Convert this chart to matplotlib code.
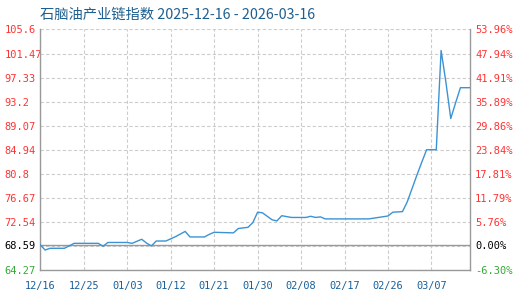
import matplotlib
matplotlib.use("Agg")
import matplotlib.pyplot as plt
import matplotlib.dates as mdates
import pandas as pd

plt.rcParams['font.family'] = ['Noto Sans CJK SC', 'DejaVu Sans']

title = "石脑油产业链指数 2025-12-16 - 2026-03-16"

dates = [
    "2025-12-16", "2025-12-17", "2025-12-18", "2025-12-21", "2025-12-23",
    "2025-12-28", "2025-12-29", "2025-12-30", "2026-01-03", "2026-01-04",
    "2026-01-06", "2026-01-07", "2026-01-08", "2026-01-09", "2026-01-11",
    "2026-01-13", "2026-01-15", "2026-01-16", "2026-01-19", "2026-01-20",
    "2026-01-21", "2026-01-25", "2026-01-26", "2026-01-28", "2026-01-29",
    "2026-01-30", "2026-01-31", "2026-02-02", "2026-02-03", "2026-02-04",
    "2026-02-06", "2026-02-09", "2026-02-10", "2026-02-11", "2026-02-12",
    "2026-02-13", "2026-02-22", "2026-02-26", "2026-02-27", "2026-03-01",
    "2026-03-02", "2026-03-03", "2026-03-04", "2026-03-05", "2026-03-06",
    "2026-03-08", "2026-03-09", "2026-03-10", "2026-03-11", "2026-03-12",
    "2026-03-13", "2026-03-15",
]
values = [
    68.59, 67.70, 68.00, 68.00, 68.85,
    68.85, 68.35, 69.00, 69.00, 68.85,
    69.55, 68.90, 68.40, 69.25, 69.25,
    70.00, 70.90, 69.95, 69.95, 70.40,
    70.75, 70.65, 71.40, 71.60, 72.40,
    74.20, 74.10, 72.90, 72.70, 73.60,
    73.30, 73.30, 73.50, 73.30, 73.40,
    73.05, 73.05, 73.55, 74.20, 74.30,
    76.00, 78.30, 80.60, 82.80, 84.94,
    84.94, 102.00, 96.50, 90.30, 93.00,
    95.60, 95.60,
]

base_value = 68.59
base_pct = "0.00%"

left_ticks = [105.6, 101.47, 97.33, 93.2, 89.07, 84.94, 80.8, 76.67, 72.54, 68.41, 64.27]
left_labels = ["105.6", "101.47", "97.33", "93.2", "89.07", "84.94", "80.8", "76.67", "72.54", "", "64.27"]
right_labels = ["53.96%", "47.94%", "41.91%", "35.89%", "29.86%", "23.84%", "17.81%",
                "11.79%", "5.76%", "", "-6.30%"]

x_ticks = ["2025-12-16", "2025-12-25", "2026-01-03", "2026-01-12", "2026-01-21",
           "2026-01-30", "2026-02-08", "2026-02-17", "2026-02-26", "2026-03-07"]

red = "#ff3333"
green = "#33aa33"
gray = "#999999"
mono = "DejaVu Sans Mono"

df = pd.DataFrame({"date": pd.to_datetime(dates), "value": values})

fig = plt.figure(figsize=(5.2, 3.0), dpi=100)
ax = fig.add_axes([0.0775, 0.1, 0.8265, 0.8017])

# grid first so the line sits on top
ax.set_axisbelow(True)
ax.grid(True, which="major", color="#cccccc", linestyle=(0, (3, 2)), linewidth=0.8)
ax.axhline(base_value, color=gray, linewidth=1.0, zorder=1.5)

ax.plot(df["date"], df["value"], color="#3b93d4", linewidth=1.0, zorder=3)

ax.set_ylim(64.27, 105.6)
ax.set_xlim(pd.Timestamp("2025-12-16"), pd.Timestamp("2026-03-15"))

ax.set_yticks(left_ticks)
ax.set_yticklabels(left_labels, fontfamily=mono, fontsize=7.5)
ax.set_yticks([base_value], minor=True)
ax.set_yticklabels([f"{base_value:.2f}"], minor=True, fontfamily=mono, fontsize=7.5)
ax.tick_params(axis="y", which="both", length=0, pad=25.8)
for lab in ax.get_yticklabels():
    lab.set_ha("left")
    lab.set_color(red)
ax.get_yticklabels()[-1].set_color(green)
for lab in ax.get_yticklabels(minor=True):
    lab.set_ha("left")
    lab.set_color("black")

ax.set_xticks(pd.to_datetime(x_ticks))
ax.xaxis.set_major_formatter(mdates.DateFormatter("%m/%d"))
ax.tick_params(axis="x", length=0, pad=8, labelsize=7.4, labelcolor="#1a5f99")
for lab in ax.get_xticklabels():
    lab.set_fontfamily(mono)

for side in ["left", "bottom", "right"]:
    ax.spines[side].set_color(gray)
    ax.spines[side].set_linewidth(1.0)
ax.spines["top"].set_visible(False)

# right side percentages vs. base value
ax2 = ax.twinx()
ax2.set_ylim(ax.get_ylim())
ax2.set_yticks(left_ticks)
ax2.set_yticklabels(right_labels, fontfamily=mono, fontsize=7.5)
ax2.set_yticks([base_value], minor=True)
ax2.set_yticklabels([base_pct], minor=True, fontfamily=mono, fontsize=7.5)
ax2.tick_params(axis="y", which="both", length=0, pad=3.6)
for lab in ax2.get_yticklabels():
    lab.set_color(red)
ax2.get_yticklabels()[-1].set_color(green)
for lab in ax2.get_yticklabels(minor=True):
    lab.set_color("black")
for s in ax2.spines.values():
    s.set_visible(False)

fig.text(40 / 520, 1 - 15 / 300, title, fontsize=10.3, color="#1f5f8f", ha="left", va="center")

fig.savefig("out.png", dpi=100)
